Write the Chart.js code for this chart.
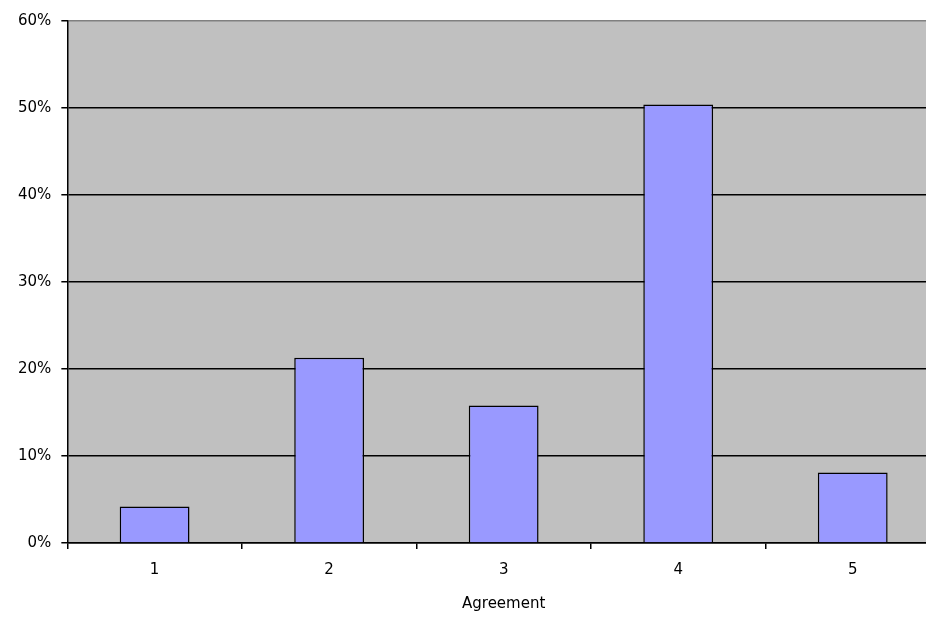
<!DOCTYPE html>
<html lang="en">
<head>
    <meta charset="UTF-8">
    <title>Agreement</title>
    <style>
        html, body { margin: 0; padding: 0; background: #fff; overflow: hidden; }
        #myChart { display: block; }
    </style>
    <script src="https://cdn.jsdelivr.net/npm/chart.js"></script>
</head>
<body>
    <canvas id="myChart" width="940" height="618"></canvas>
    <script>
        // data
        var categories = ['1', '2', '3', '4', '5'];
        var shares = [4.2, 21.3, 15.8, 50.4, 8.1];
        var yTicks = [0, 10, 20, 30, 40, 50, 60];

        var labelFont = { family: 'DejaVu Sans, Verdana, sans-serif', size: 15 };

        // grey plot background like the old spreadsheet charts
        var plotBackground = {
            id: 'plotBackground',
            beforeDraw: function(chart) {
                var a = chart.chartArea;
                var ctx = chart.ctx;
                ctx.save();
                ctx.fillStyle = '#C0C0C0';
                ctx.fillRect(a.left, a.top, a.right - a.left, a.bottom - a.top);
                ctx.restore();
            }
        };

        var ctx = document.getElementById('myChart').getContext('2d');
        var myChart = new Chart(ctx, {
            type: 'bar',
            data: {
                labels: categories,
                datasets: [{
                    data: shares,
                    backgroundColor: '#9999FF',
                    borderColor: '#000000',
                    borderWidth: 1.5,
                    barPercentage: 0.4,
                    categoryPercentage: 1
                }]
            },
            options: {
                responsive: false,
                devicePixelRatio: 1,
                animation: false,
                layout: {
                    padding: { left: 8, top: 21, right: 0, bottom: 5 }
                },
                scales: {
                    y: {
                        min: 0,
                        max: 60,
                        afterBuildTicks: function(axis) {
                            axis.ticks = yTicks.map(function(v) { return { value: v }; });
                        },
                        ticks: {
                            padding: 10,
                            color: '#000',
                            font: labelFont,
                            callback: function(value) { return value + '%'; }
                        },
                        grid: {
                            color: function(c) { return c.tick && c.tick.value === 60 ? '#808080' : '#000'; },
                            lineWidth: 1.5,
                            tickLength: 6,
                            tickColor: '#000'
                        },
                        border: { color: '#000', width: 1.5 }
                    },
                    x: {
                        ticks: {
                            padding: 12,
                            color: '#000',
                            font: labelFont
                        },
                        grid: {
                            offset: true,
                            drawOnChartArea: false,
                            tickLength: 6,
                            color: '#000',
                            lineWidth: 1.5
                        },
                        border: { color: '#000', width: 1.5 },
                        title: {
                            display: true,
                            text: 'Agreement',
                            color: '#000',
                            font: labelFont,
                            padding: { top: 4, bottom: 0 }
                        }
                    }
                },
                plugins: {
                    legend: { display: false },
                    tooltip: { enabled: false }
                }
            },
            plugins: [plotBackground]
        });
    </script>
</body>
</html>
